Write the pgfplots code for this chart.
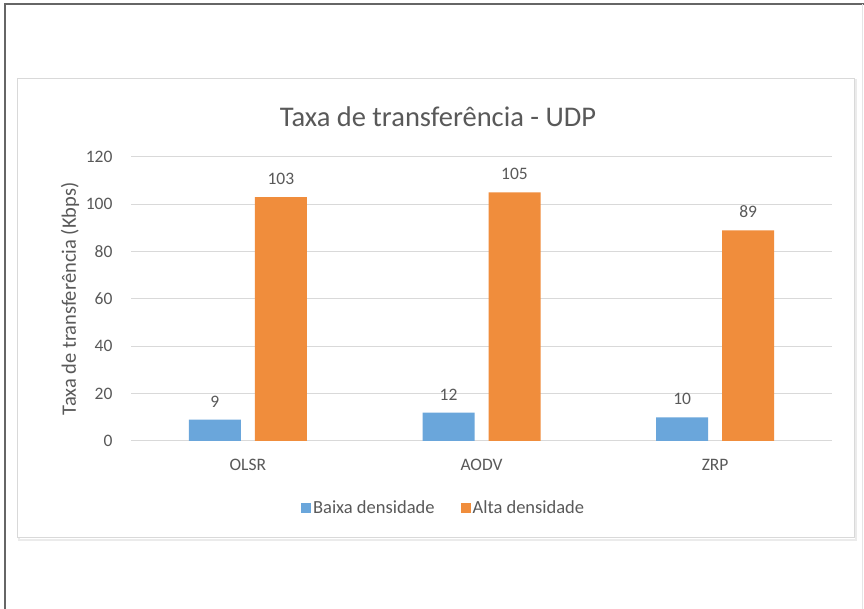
\documentclass[border=0pt]{standalone}
\usepackage{pgfplots}
\pgfplotsset{compat=1.18}
\usepackage{fontspec}
\setmainfont{Carlito}
\definecolor{txtgray}{HTML}{595959}
\definecolor{gridgray}{HTML}{D9D9D9}
\definecolor{barblue}{HTML}{6AA6DB}
\definecolor{barorange}{HTML}{F08D3C}
\begin{document}
\begin{tikzpicture}[x=1pt,y=1pt]
\useasboundingbox (0,0) rectangle (864,609);
% page frame
\draw[color=black!60, line width=2pt] (5,0) -- (5,605) -- (864,605);
\draw[color=black!10, line width=1pt] (862,0) -- (862,605);
% chart box with light shadow
\draw[color=black!8, line width=2pt] (19,69) rectangle (856,529);
\draw[color=gridgray, fill=white, line width=1pt] (17,71) rectangle (854,530);
\node[font=\fontsize{28.5}{30}\selectfont, text=txtgray] at (438,492) {Taxa de transferência - UDP};
\begin{axis}[
	at={(131pt,168pt)}, anchor=south west,
	scale only axis,
	width=701pt, height=284pt,
	ybar=14pt,
	bar width=52pt,
	xmin=-0.5, xmax=2.5,
	ymin=0, ymax=120,
	ytick={0,20,...,120},
	xtick={0,1,2},
	xticklabels={OLSR,AODV,ZRP},
	axis line style={draw=none},
	ymajorgrids,
	grid style={gridgray, line width=1pt},
	major tick length=0pt,
	tick label style={font=\fontsize{17.5}{19}\selectfont, text=txtgray},
	/pgf/number format/assume math mode=true,
	yticklabel style={xshift=-15pt},
	xticklabel style={yshift=-15pt},
	ylabel={Taxa de transferência (Kbps)},
	ylabel style={at={(axis description cs:-0.087,0.5)}, anchor=center, font=\fontsize{20.5}{22}\selectfont, text=txtgray},
	nodes near coords,
	every node near coord/.append style={font=\fontsize{17.5}{19}\selectfont, text=txtgray, yshift=9pt},
	legend columns=2,
	legend style={at={(0.446,-0.236)}, anchor=center, draw=none, fill=none,
		font=\fontsize{18.5}{20}\selectfont, text=txtgray,
		/tikz/every even column/.append style={column sep=24pt}},
	legend image code/.code={\fill[#1] (0pt,-5pt) rectangle (10pt,5pt);},
]
\addplot[fill=barblue, draw=none] coordinates {(0,9) (1,12) (2,10)};
\addplot[fill=barorange, draw=none] coordinates {(0,103) (1,105) (2,89)};
\legend{Baixa densidade, Alta densidade}
\end{axis}
\end{tikzpicture}
\end{document}
